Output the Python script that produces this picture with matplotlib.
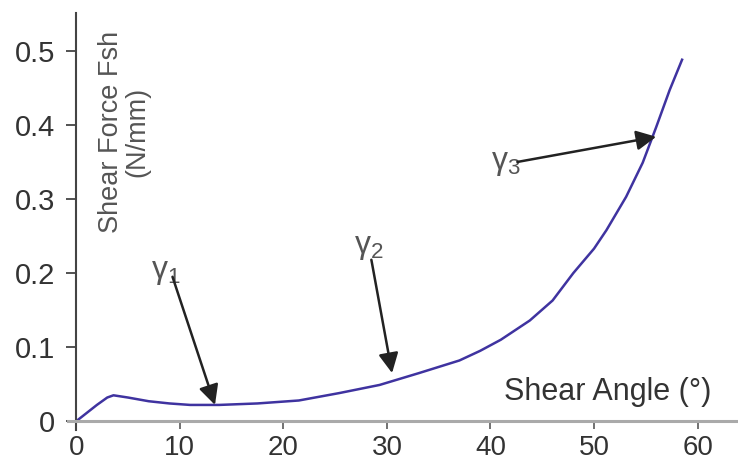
import matplotlib
matplotlib.use("Agg")
import matplotlib.pyplot as plt

plt.rcParams["font.family"] = ["Liberation Sans", "DejaVu Sans"]
plt.rcParams["mathtext.fontset"] = "custom"
plt.rcParams["mathtext.rm"] = "Liberation Sans"
plt.rcParams["mathtext.it"] = "Liberation Sans"

# shear angle (deg) vs shear force (N/mm)
angle = [0, 1, 2, 3, 3.6, 5, 7, 9, 11, 13.8, 17.5, 21.5, 25.4, 29.3, 33.1,
         37, 39, 41, 43.8, 46, 48, 50, 51.2, 53.1, 54.7, 56.0, 57.3, 58.5]
force = [0, 0.011, 0.022, 0.032, 0.035, 0.032, 0.027, 0.024, 0.022, 0.022,
         0.024, 0.028, 0.038, 0.049, 0.065, 0.082, 0.095, 0.110, 0.136,
         0.163, 0.200, 0.233, 0.258, 0.303, 0.349, 0.397, 0.447, 0.488]

x_ticks = [0, 10, 20, 30, 40, 50, 60]
y_ticks = [0, 0.1, 0.2, 0.3, 0.4, 0.5]
y_tick_labels = ["0", "0.1", "0.2", "0.3", "0.4", "0.5"]

# label text position, arrow tail, arrow head (data coords)
markers = [
    (r"$\mathregular{\gamma_1}$", (8.7, 0.201), (9.3, 0.195), (13.4, 0.022)),
    (r"$\mathregular{\gamma_2}$", (28.3, 0.235), (28.5, 0.218), (30.5, 0.065)),
    (r"$\mathregular{\gamma_3}$", (41.5, 0.349), (42.6, 0.350), (56.0, 0.384)),
]

fig = plt.figure(figsize=(7.38, 4.66), dpi=100)
ax = fig.add_axes([0.092, 0.077, 0.908, 0.895])

ax.plot(angle, force, color="#3f33a0", lw=1.8)

ax.set_xlim(-0.8, 63.9)
ax.set_ylim(-0.012, 0.551)

for s in ["top", "right"]:
    ax.spines[s].set_visible(False)
ax.spines["left"].set_position(("data", 0))
ax.spines["bottom"].set_position(("data", 0))
ax.spines["left"].set_color("#444444")
ax.spines["left"].set_linewidth(1.5)
ax.spines["bottom"].set_color("#aaaaaa")
ax.spines["bottom"].set_linewidth(2.2)

ax.set_xticks(x_ticks)
ax.set_yticks(y_ticks)
ax.set_yticklabels(y_tick_labels)
ax.tick_params(axis="y", direction="out", length=7, width=1.3, color="#444444",
               labelsize=21, labelcolor="#333333", pad=8)
ax.tick_params(axis="x", direction="out", length=6, width=1.3, color="#666666",
               labelsize=20, labelcolor="#333333", pad=4)

fig.text(124 / 738, 1 - 132 / 466, "Shear Force Fsh\n(N/mm)",
         rotation=90, ha="center", va="center", fontsize=19.5, color="#555555",
         linespacing=1.05)
fig.text(0.964, 1 - 392 / 466, "Shear Angle (°)",
         ha="right", va="center", fontsize=22, color="#333333")

for label, txt_pos, tail, head in markers:
    ax.text(txt_pos[0], txt_pos[1], label, ha="center", va="center",
            fontsize=23, color="#555555")
    ax.annotate("", xy=head, xytext=tail,
                arrowprops=dict(arrowstyle="-|>", color="#222222", lw=1.8,
                                mutation_scale=30, shrinkA=0, shrinkB=0))

fig.savefig("out.png", dpi=100)
